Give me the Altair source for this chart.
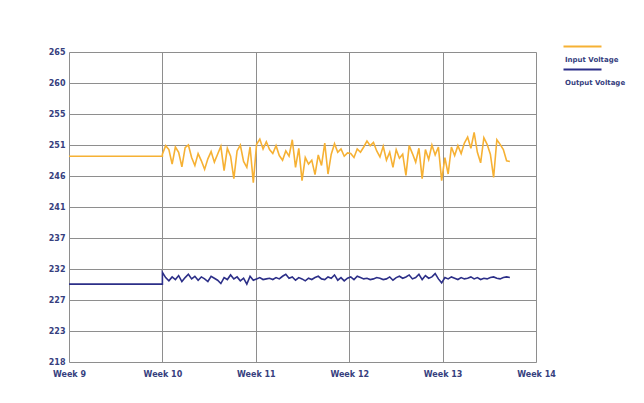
import altair as alt
import pandas as pd

# ---- data ----
series_names = ["Input Voltage", "Output Voltage"]
series_colors = ["#f6b134", "#2c2f88"]

week_ticks = [9, 10, 11, 12, 13, 14]
week_labels = ["Week 9", "Week 10", "Week 11", "Week 12", "Week 13", "Week 14"]

y_ticks = [218, 222.7, 227.4, 232.1, 236.8, 241.5, 246.2, 250.9, 255.6, 260.3, 265]
y_labels = ["218", "223", "227", "232", "237", "241", "246", "251", "255", "260", "265"]

flat_weeks = [9.0, 10.0]
flat_input = 249.2
flat_output = 229.8
readings_start = 10.0
readings_end = 13.72

input_values = [
    249.5, 250.8, 250.2, 248.0, 250.6, 249.8, 247.6, 250.5, 250.9, 249.0,
    247.8, 249.6, 248.5, 247.2, 248.8, 249.9, 248.3, 249.5, 250.7, 247.0,
    250.4, 249.2, 245.8, 250.0, 250.9, 248.4, 247.5, 250.6, 245.2,
    251.0, 251.8, 250.3, 251.4, 250.2, 249.6, 250.8, 249.3, 248.6, 250.0,
    249.2, 251.7, 247.5, 250.4, 245.5, 249.0, 248.0, 248.6, 246.4, 249.4,
    247.8, 251.2, 246.5, 249.5, 251.1, 249.8, 250.3, 249.2, 249.7,
    249.6, 249.0, 250.3, 249.8, 250.6, 251.5, 250.8, 251.3, 250.0, 249.1,
    250.7, 248.6, 249.8, 247.5, 250.2, 248.9, 249.5, 246.3, 250.8, 249.6,
    248.3, 250.4, 245.8, 250.2, 248.7, 250.9, 249.4, 250.6, 245.5,
    249.0, 246.5, 250.6, 249.3, 250.8, 249.6, 251.2, 252.1, 250.4, 252.8,
    249.8, 248.2, 252.0, 251.0, 249.5, 246.0, 251.7, 251.0, 250.2, 248.5,
    248.4,
]

output_values = [
    231.6, 230.8, 230.3, 230.9, 230.5, 231.1, 230.2, 230.8, 231.3, 230.6,
    231.0, 230.4, 230.9, 230.6, 230.2, 231.0, 230.7, 230.4, 229.9, 230.8,
    230.5, 231.2, 230.6, 230.9, 230.3, 230.7, 229.8, 231.0, 230.4,
    230.6, 230.8, 230.5, 230.6, 230.7, 230.5, 230.8, 230.6, 231.0, 231.3,
    230.7, 230.9, 230.4, 230.8, 230.6, 230.3, 230.7, 230.5, 230.8, 231.0,
    230.6, 230.5, 230.9, 230.7, 231.2, 230.4, 230.8, 230.3, 230.7,
    230.9, 230.5, 231.0, 230.8, 230.6, 230.7, 230.5, 230.6, 230.8, 230.7,
    230.5, 230.6, 230.9, 230.4, 230.8, 231.0, 230.7, 230.9, 231.2, 230.6,
    230.8, 231.3, 230.5, 231.1, 230.7, 230.9, 231.4, 230.6, 230.0,
    230.8, 230.6, 230.9, 230.7, 230.5, 230.8, 230.6, 230.7, 230.9, 230.6,
    230.8, 230.5, 230.7, 230.6, 230.8, 230.9, 230.7, 230.6, 230.8, 230.9,
    230.8,
]

# ---- build table ----
n = len(input_values)
step = (readings_end - readings_start) / (n - 1)
rows = []
for name, flat, vals in [(series_names[0], flat_input, input_values),
                         (series_names[1], flat_output, output_values)]:
    for k, w in enumerate(flat_weeks):
        rows.append({"week": w, "volt": flat, "series": name, "order": k - len(flat_weeks)})
    for i, v in enumerate(vals):
        rows.append({"week": readings_start + i * step, "volt": v, "series": name, "order": i})
df = pd.DataFrame(rows)

label_font = "DejaVu Sans"
label_color = "#36407e"

ylab_expr = "[" + ",".join("'%s'" % s for s in y_labels) + "][round((datum.value - %s) / %s)]" % (
    y_ticks[0], (y_ticks[-1] - y_ticks[0]) / (len(y_ticks) - 1))
xlab_expr = "[" + ",".join("'%s'" % s for s in week_labels) + "][round(datum.value - %s)]" % week_ticks[0]

chart = alt.Chart(df).mark_line(strokeWidth=1.6, interpolate="linear").encode(
    x=alt.X("week:Q",
            scale=alt.Scale(domain=[week_ticks[0], week_ticks[-1]], nice=False, zero=False),
            axis=alt.Axis(values=week_ticks, labelExpr=xlab_expr, title=None, ticks=False,
                          domain=False, grid=True, gridColor="#8e8e8e", gridWidth=1,
                          labelFont=label_font, labelFontWeight="bold", labelFontSize=8,
                          labelColor=label_color, labelPadding=8, labelFlush=False)),
    y=alt.Y("volt:Q",
            scale=alt.Scale(domain=[y_ticks[0], y_ticks[-1]], nice=False, zero=False),
            axis=alt.Axis(values=y_ticks, labelExpr=ylab_expr, title=None, ticks=False,
                          domain=False, grid=True, gridColor="#8e8e8e", gridWidth=1,
                          labelFont=label_font, labelFontWeight="bold", labelFontSize=8,
                          labelColor=label_color, labelPadding=4)),
    color=alt.Color("series:N",
                    scale=alt.Scale(domain=series_names, range=series_colors),
                    legend=alt.Legend(title=None, orient="none", legendX=489, legendY=4,
                                      symbolType="M1,-6.5H20", symbolSize=16, symbolStrokeWidth=2,
                                      labelBaseline="middle", labelOffset=0, rowPadding=2,
                                      labelFont=label_font, labelFontWeight="bold",
                                      labelFontSize=7, labelColor=label_color)),
    order="order:Q",
).properties(
    width=467, height=310,
    autosize=alt.AutoSizeParams(type="none"),
    padding={"left": 61, "top": 44, "right": 100, "bottom": 33},
).configure_view(
    fill="#dbdbdb", stroke="#b4b4b4", strokeWidth=1,
).configure(background="white")

chart.save("out.html", embed_options={"renderer": "svg", "actions": False})
